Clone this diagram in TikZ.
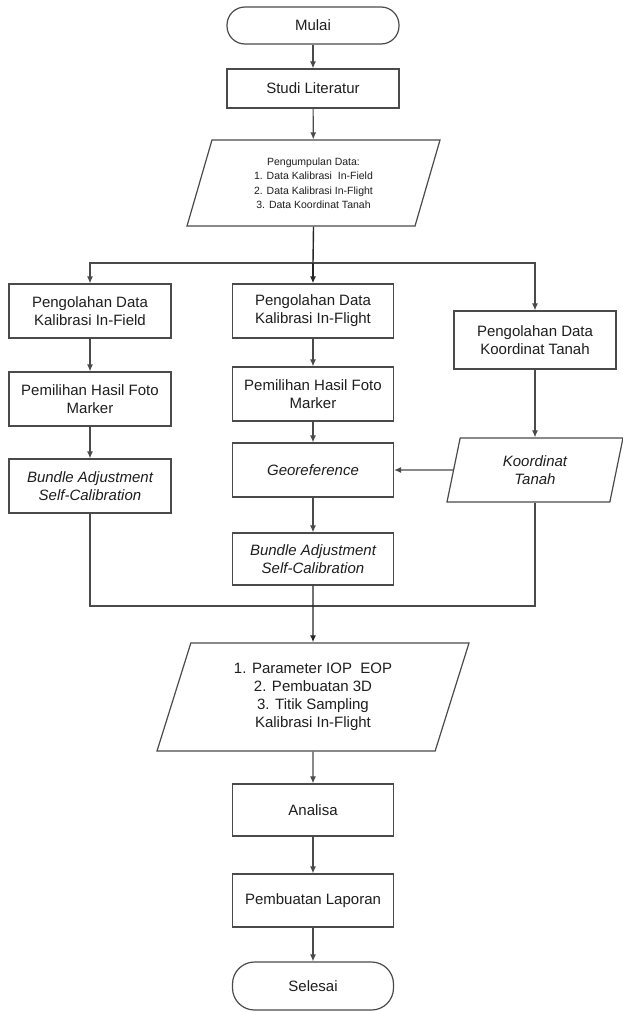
\documentclass[tikz,border=0pt]{standalone}
\usepackage{fontspec}
\setmainfont{Liberation Sans}
\usetikzlibrary{shapes.geometric,arrows.meta,positioning}
\definecolor{garis}{HTML}{4A4A4A}
\definecolor{teks}{HTML}{1E1E1E}
\tikzset{proses/.style={rectangle,draw=garis,line width=1.2pt,fill=white,text=teks,minimum width=161pt,minimum height=54pt,inner sep=0pt,align=center,font=\fontsize{15}{18}\selectfont},
         terminal/.style={proses,rounded corners=18pt},
         data/.style={trapezium,trapezium stretches body,trapezium left angle=64,trapezium right angle=116,draw=garis,line width=1.2pt,fill=white,text=teks,inner sep=0pt,align=center,font=\fontsize{15}{18}\selectfont},
         alur/.style={draw=garis,line width=1.2pt},
         utama/.style={draw=black!85,line width=1.4pt}
}

\begin{document}
\begin{tikzpicture}[x=1pt,y=-1pt,>={Latex[length=7pt,width=6pt]}]
\useasboundingbox (0,0) rectangle (622,1012);
% jalur tengah
\node [terminal,minimum width=172pt,minimum height=37pt] (mulai) at (313,25.5) {Mulai};
\node [proses,minimum width=172pt,minimum height=39pt] (studi) at (313,88.5) {Studi Literatur};
\node [data,minimum width=253pt,minimum height=86pt,
       font=\fontsize{10.5}{14.5}\selectfont] (kumpul) at (313.5,183) {Pengumpulan Data:\\
       1. Data Kalibrasi\ \ In-Field\\2. Data Kalibrasi In-Flight\\3. Data Koordinat Tanah};
\coordinate (pisah) at (313,263);
% kolom kiri
\node [proses,minimum width=162pt] (kf1) at (90,311) {Pengolahan Data\\Kalibrasi In-Field};
\node [proses,minimum width=162pt] (kf2) at (90,399) {Pemilihan Hasil Foto\\Marker};
\node [proses,minimum width=162pt] (kf3) at (90,486) {\itshape Bundle Adjustment\\\itshape Self-Calibration};
% kolom tengah
\node [proses] (fl1) at (313,311) {Pengolahan Data\\Kalibrasi In-Flight};
\node [proses] (fl2) at (313,394) {Pemilihan Hasil Foto\\Marker};
\node [proses] (geo) at (313,470) {\itshape Georeference};
\node [proses,minimum height=52pt] (fl3) at (313,559) {\itshape Bundle Adjustment\\\itshape Self-Calibration};
% kolom kanan
\node [proses,minimum width=162pt,minimum height=58pt] (kt1) at (535,340) {Pengolahan Data\\Koordinat Tanah};
\node [data,minimum width=176pt,minimum height=64pt,trapezium left angle=65.6,
       trapezium right angle=114.4] (kt2) at (535,470) {\itshape Koordinat\\\itshape Tanah};
\coordinate (gabung) at (313,606);
% hasil
\node [data,minimum width=312pt,minimum height=108pt,trapezium left angle=63.4,
       trapezium right angle=116.6] (hasil) at (313,697) {1. Parameter IOP\ \ EOP\\
       2. Pembuatan 3D\\3. Titik Sampling\\Kalibrasi In-Flight};
\node [proses,minimum height=52pt] (analisa) at (313,810) {Analisa};
\node [proses,minimum height=53pt] (lapor) at (313,900.5) {Pembuatan Laporan};
\node [terminal,minimum height=48pt,rounded corners=22pt] (selesai) at (313,986) {Selesai};

\draw [alur,->] (mulai) -- (studi);
\draw [alur,->] (studi) -- (kumpul);
\draw [utama] (kumpul.south) -- (pisah);
\draw [alur,->] (pisah) -| (kf1.north);
\draw [alur,->] (pisah) -| (kt1.north);
\draw [utama,->] (pisah) -- (fl1.north);
\foreach \a/\b in {kf1/kf2,kf2/kf3,fl1/fl2,fl2/geo,geo/fl3,kt1/kt2,analisa/lapor,lapor/selesai}
  \draw [alur,->] (\a) -- (\b);
\draw [alur,->] (kt2.west) -- (geo.east);
\draw [alur] (kf3.south) |- (gabung);
\draw [alur] (kt2.south) |- (gabung);
\draw [utama,->] (fl3.south) -- (hasil.north);
\draw [alur,->] (hasil) -- (analisa);
\end{tikzpicture}
\end{document}
